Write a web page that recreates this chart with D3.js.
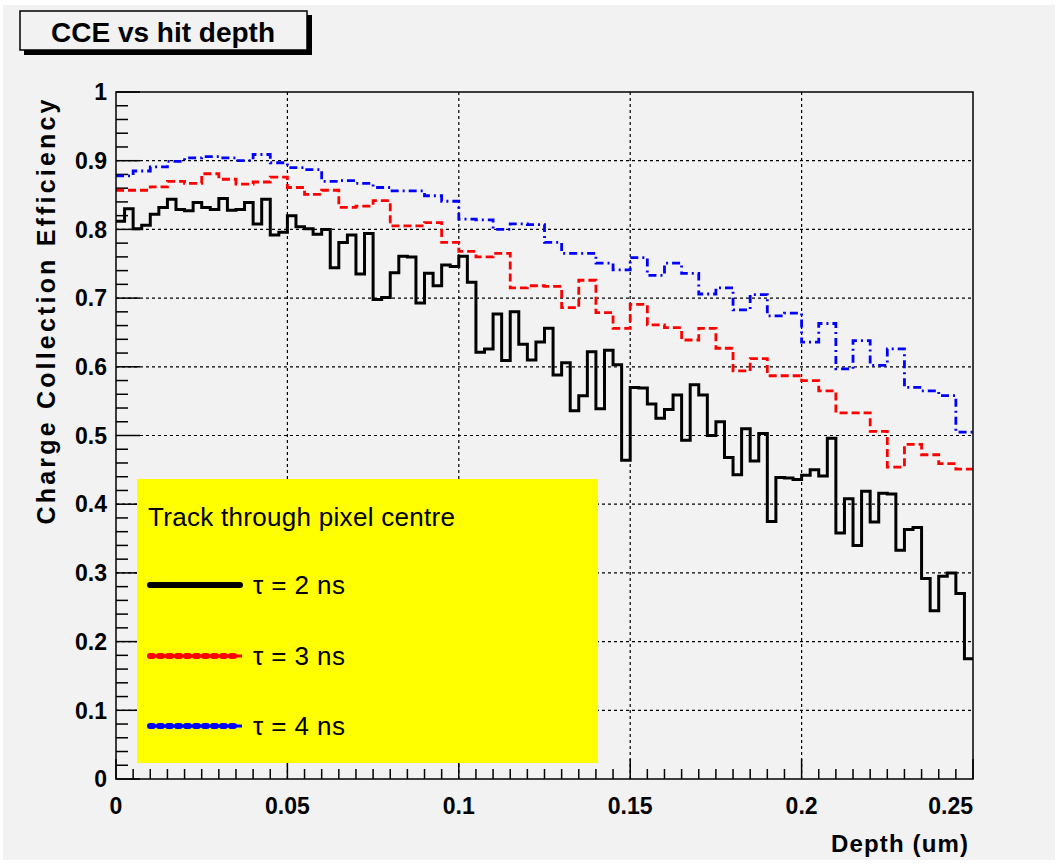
<!DOCTYPE html>
<html>
<head>
<meta charset="utf-8">
<script src="https://cdn.jsdelivr.net/npm/d3@7"></script>
<style>
  html, body { margin: 0; padding: 0; background: #ffffff; }
  svg { display: block; }
  text { font-family: "Liberation Sans", Arial, Helvetica, sans-serif; }
</style>
</head>
<body>
<svg id="chart" width="1064" height="864"></svg>
<script>
// ---------------- data ----------------
const chartTitle = "CCE vs hit depth";
const xLabel = "Depth (um)";
const yLabel = "Charge Collection Efficiency";
const xDomain = [0, 0.25];
const yDomain = [0, 1];
const xTicks = [0, 0.05, 0.1, 0.15, 0.2, 0.25];
const xTickLabels = ["0", "0.05", "0.1", "0.15", "0.2", "0.25"];
const yTicks = [0, 0.1, 0.2, 0.3, 0.4, 0.5, 0.6, 0.7, 0.8, 0.9, 1];
const yTickLabels = ["0", "0.1", "0.2", "0.3", "0.4", "0.5", "0.6", "0.7", "0.8", "0.9", "1"];

// tau = 2 ns : 100 bins
const tau2 = [
  0.812, 0.830, 0.801, 0.806, 0.822, 0.832, 0.844, 0.829, 0.827, 0.839,
  0.832, 0.829, 0.845, 0.828, 0.829, 0.839, 0.808, 0.844, 0.792, 0.796,
  0.820, 0.804, 0.801, 0.793, 0.800, 0.744, 0.781, 0.792, 0.735, 0.794,
  0.698, 0.701, 0.737, 0.761, 0.760, 0.693, 0.736, 0.718, 0.748, 0.746,
  0.761, 0.723, 0.621, 0.626, 0.677, 0.609, 0.680, 0.633, 0.610, 0.636,
  0.656, 0.588, 0.606, 0.536, 0.558, 0.622, 0.539, 0.624, 0.603, 0.464,
  0.570, 0.569, 0.546, 0.525, 0.538, 0.559, 0.493, 0.574, 0.559, 0.500,
  0.520, 0.468, 0.443, 0.510, 0.463, 0.503, 0.375, 0.439, 0.438, 0.436,
  0.442, 0.450, 0.441, 0.496, 0.358, 0.408, 0.340, 0.419, 0.374, 0.416,
  0.415, 0.333, 0.363, 0.366, 0.292, 0.245, 0.295, 0.300, 0.270, 0.175
];
// tau = 3 ns : 50 bins
const tau3 = [
  0.857, 0.857, 0.862, 0.870, 0.867, 0.881, 0.873, 0.866, 0.869, 0.876,
  0.861, 0.851, 0.857, 0.832, 0.834, 0.842, 0.805, 0.805, 0.810, 0.781,
  0.768, 0.760, 0.765, 0.715, 0.718, 0.717, 0.686, 0.726, 0.679, 0.656,
  0.691, 0.661, 0.657, 0.639, 0.656, 0.627, 0.594, 0.612, 0.587, 0.587,
  0.580, 0.565, 0.533, 0.533, 0.506, 0.454, 0.487, 0.472, 0.459, 0.451
];
// tau = 4 ns : 50 bins
const tau4 = [
  0.878, 0.885, 0.891, 0.899, 0.904, 0.906, 0.904, 0.900, 0.909, 0.897,
  0.890, 0.887, 0.870, 0.871, 0.867, 0.861, 0.856, 0.856, 0.849, 0.841,
  0.815, 0.814, 0.800, 0.808, 0.807, 0.781, 0.765, 0.765, 0.751, 0.741,
  0.759, 0.733, 0.751, 0.736, 0.706, 0.715, 0.683, 0.705, 0.674, 0.678,
  0.636, 0.663, 0.597, 0.638, 0.602, 0.626, 0.570, 0.565, 0.558, 0.505
];
const legendHeader = "Track through pixel centre";
const seriesNames = ["τ = 2 ns", "τ = 3 ns", "τ = 4 ns"];
const seriesColors = ["#000000", "#ff0000", "#0000ff"];

// ---------------- layout ----------------
const svg = d3.select("#chart");
const frame = { left: 116, right: 973, top: 92, bottom: 779 };

svg.append("rect").attr("x", 3).attr("y", 5).attr("width", 1052).attr("height", 855)
  .attr("fill", "#f2f2f2");

const x = d3.scaleLinear().domain(xDomain).range([frame.left, frame.right]);
const y = d3.scaleLinear().domain(yDomain).range([frame.bottom, frame.top]);

// grid
const grid = svg.append("g").attr("stroke", "#000").attr("stroke-width", 1.2)
  .attr("stroke-dasharray", "3,3");
xTicks.slice(1, -1).forEach(t => {
  grid.append("line").attr("x1", x(t)).attr("x2", x(t))
    .attr("y1", frame.bottom).attr("y2", frame.top);
});
yTicks.slice(1, -1).forEach(t => {
  grid.append("line").attr("x1", frame.left).attr("x2", frame.right)
    .attr("y1", y(t)).attr("y2", y(t));
});

// ticks pointing inside the frame
const axG = svg.append("g");
d3.range(0, 0.25001, 0.005).forEach(t => {
  const major = Math.abs(t / 0.05 - Math.round(t / 0.05)) < 1e-6;
  axG.append("line").attr("x1", x(t)).attr("x2", x(t))
    .attr("y1", frame.bottom).attr("y2", frame.bottom - (major ? 20 : 10))
    .attr("stroke", "#000").attr("stroke-width", 1.5);
});
d3.range(0, 1.0001, 0.02).forEach(t => {
  const major = Math.abs(t / 0.1 - Math.round(t / 0.1)) < 1e-6;
  axG.append("line").attr("x1", frame.left).attr("x2", frame.left + (major ? 24 : 12))
    .attr("y1", y(t)).attr("y2", y(t))
    .attr("stroke", "#000").attr("stroke-width", 1.5);
});

// tick labels
const lab = svg.append("g").attr("font-weight", "bold").attr("font-size", 23).attr("fill", "#000");
yTicks.forEach((t, i) => {
  lab.append("text").attr("x", 107).attr("y", y(t)).attr("dy", "0.36em")
    .attr("text-anchor", "end").text(yTickLabels[i]);
});
xTicks.forEach((t, i) => {
  const last = i === xTicks.length - 1;
  lab.append("text").attr("x", x(t)).attr("y", 814)
    .attr("text-anchor", last ? "end" : "middle").text(xTickLabels[i]);
});

// axis titles
svg.append("text").attr("x", 968).attr("y", 852).attr("text-anchor", "end")
  .attr("font-weight", "bold").attr("font-size", 24)
  .attr("textLength", 137).attr("lengthAdjust", "spacing").text(xLabel);
svg.append("text").attr("transform", "translate(55,312) rotate(-90)")
  .attr("text-anchor", "middle").attr("font-weight", "bold").attr("font-size", 25)
  .attr("textLength", 425).attr("lengthAdjust", "spacing")
  .text(yLabel);

// histograms drawn as steps
function stepPoints(vals) {
  const bw = (xDomain[1] - xDomain[0]) / vals.length;
  const pts = vals.map((v, i) => [xDomain[0] + i * bw, v]);
  pts.push([xDomain[1], vals[vals.length - 1]]);
  return pts;
}
const line = d3.line().x(d => x(d[0])).y(d => y(d[1])).curve(d3.curveStepAfter);
svg.append("path").attr("d", line(stepPoints(tau4))).attr("fill", "none")
  .attr("stroke", seriesColors[2]).attr("stroke-width", 2.8).attr("stroke-dasharray", "8,4,2,4");
svg.append("path").attr("d", line(stepPoints(tau3))).attr("fill", "none")
  .attr("stroke", seriesColors[1]).attr("stroke-width", 2.8).attr("stroke-dasharray", "8,4");
svg.append("path").attr("d", line(stepPoints(tau2))).attr("fill", "none")
  .attr("stroke", seriesColors[0]).attr("stroke-width", 3);

// frame
svg.append("rect").attr("x", frame.left).attr("y", frame.top)
  .attr("width", frame.right - frame.left).attr("height", frame.bottom - frame.top)
  .attr("fill", "none").attr("stroke", "#000").attr("stroke-width", 1.5);

// legend
const lg = svg.append("g");
lg.append("rect").attr("x", 137).attr("y", 479).attr("width", 461).attr("height", 284)
  .attr("fill", "#ffff00");
lg.append("text").attr("x", 148).attr("y", 526).attr("font-size", 26)
  .attr("textLength", 307).attr("lengthAdjust", "spacing").text(legendHeader);
const legY = [585, 656, 726];
const legDash = [null, "3,6", "3,6"];
seriesNames.forEach((n, i) => {
  lg.append("line").attr("x1", 150).attr("x2", 240).attr("y1", legY[i]).attr("y2", legY[i])
    .attr("stroke", seriesColors[i]).attr("stroke-width", 6)
    .attr("stroke-linecap", "round")
    .attr("stroke-dasharray", legDash[i]);
  if (i > 0) {
    lg.append("line").attr("x1", 148).attr("x2", 242).attr("y1", legY[i]).attr("y2", legY[i])
      .attr("stroke", seriesColors[i]).attr("stroke-width", 3);
  }
  lg.append("text").attr("x", 253).attr("y", legY[i]).attr("dy", "0.36em")
    .attr("font-size", 26).attr("textLength", 92).attr("lengthAdjust", "spacing").text(n);
});

// title box
svg.append("rect").attr("x", 24).attr("y", 15).attr("width", 288).attr("height", 40).attr("fill", "#000");
svg.append("rect").attr("x", 20).attr("y", 11).attr("width", 287).attr("height", 39)
  .attr("fill", "#f2f2f2").attr("stroke", "#000").attr("stroke-width", 1.5);
svg.append("text").attr("x", 163).attr("y", 42).attr("text-anchor", "middle")
  .attr("font-weight", "bold").attr("font-size", 28).text(chartTitle);
</script>
</body>
</html>
